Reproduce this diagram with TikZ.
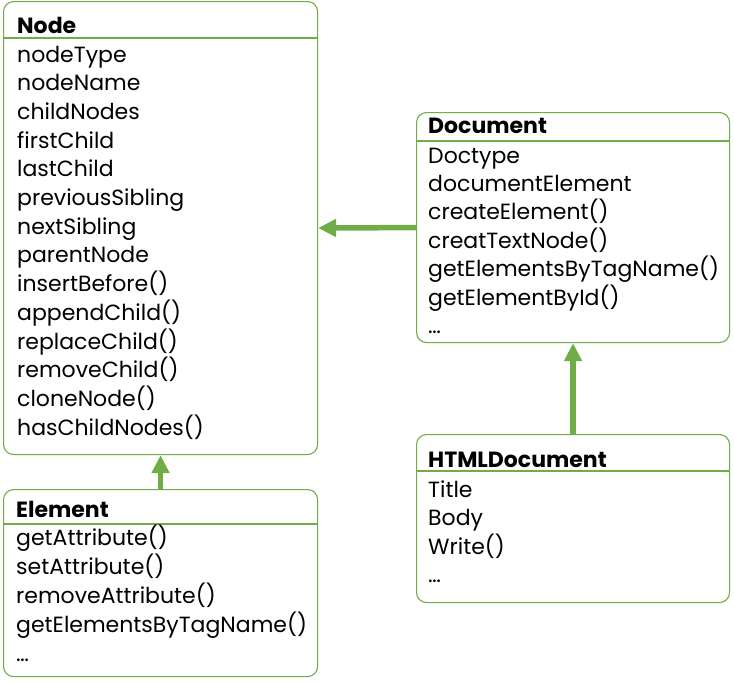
\documentclass[tikz,border=0pt]{standalone}
\usepackage{fontspec}
\setmainfont{Poppins}
\usetikzlibrary{arrows.meta}
\definecolor{umlgreen}{HTML}{70AD47}
\tikzset{>={Triangle[length=18pt,width=17pt]}}
\tikzset{
  classbox/.style={draw=umlgreen, line width=1.1pt, rounded corners=10pt, anchor=north west, inner sep=0pt},
  classtitle/.style={anchor=base west, inner sep=0pt, font=\fontsize{22}{28}\selectfont\bfseries},
  member/.style={anchor=base west, inner sep=0pt, font=\fontsize{22}{28}\selectfont},
  sepline/.style={draw=umlgreen, line width=1.1pt},
  inherit/.style={->, draw=umlgreen, line width=5.5pt}
}

\begin{document}
\begin{tikzpicture}[x=1pt, y=-1pt]
    \useasboundingbox (0,0) rectangle (734,683);
    % class boxes
    \node[classbox, minimum width=314pt, minimum height=453pt] (node) at (3,1) {};
    \node[classbox, minimum width=313pt, minimum height=230pt] (doc) at (416,112) {};
    \node[classbox, minimum width=313pt, minimum height=168pt] (html) at (416,434) {};
    \node[classbox, minimum width=314pt, minimum height=187pt] (elem) at (3,489) {};
    % Node
    \node[classtitle] (nodetitle) at (17,33) {Node};
    \draw[sepline] (node.west |- 0,38) -- (node.east |- 0,38);
    \foreach \m [count=\i from 0] in {nodeType, nodeName, childNodes, firstChild, lastChild,
        previousSibling, nextSibling, parentNode, insertBefore(), appendChild(),
        replaceChild(), removeChild(), cloneNode(), hasChildNodes()}
        \node[member] (node-\i) at (17,{62+28.7*\i}) {\m};
    % Document
    \node[classtitle] (doctitle) at (428,133) {Document};
    \draw[sepline] (doc.west |- 0,141) -- (doc.east |- 0,141);
    \foreach \m [count=\i from 0] in {Doctype, documentElement, createElement(), creatTextNode(),
        getElementsByTagName(), getElementById(), \ldots}
        \node[member] (doc-\i) at (428,{163+28.4*\i}) {\m};
    % HTMLDocument
    \node[classtitle] (htmltitle) at (428,467) {HTMLDocument};
    \draw[sepline] (html.west |- 0,471) -- (html.east |- 0,471);
    \foreach \m [count=\i from 0] in {Title, Body, Write(), \ldots}
        \node[member] (html-\i) at (428,{497+28.6*\i}) {\m};
    % Element
    \node[classtitle] (elemtitle) at (16,517) {Element};
    \draw[sepline] (elem.west |- 0,524) -- (elem.east |- 0,524);
    \foreach \m [count=\i from 0] in {getAttribute(), setAttribute(), removeAttribute(),
        getElementsByTagName(), \ldots}
        \node[member] (elem-\i) at (16,{545+29.2*\i}) {\m};
    % inheritance
    \draw[inherit] (doc.west) -- (node.east);
    \draw[inherit] (elem.north) -- (node.south);
    \draw[inherit] (html.north) -- (doc.south);
\end{tikzpicture}
\end{document}
